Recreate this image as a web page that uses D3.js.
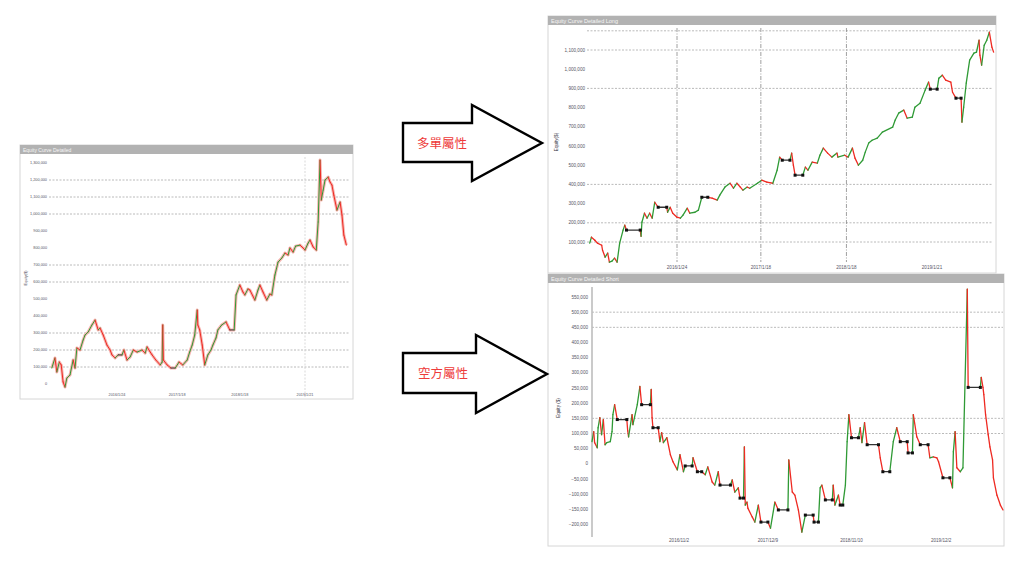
<!DOCTYPE html>
<html><head><meta charset="utf-8">
<script src="https://cdn.jsdelivr.net/npm/d3@7"></script>
<style>body{margin:0;background:#fff}svg{display:block}</style>
</head><body><svg id="c" width="1024" height="576"></svg>
<script>
// ---------- DATA (equity in thousands of $, time in decimal years) ----------
const totalYears = [2014.96,2015.01,2015.04,2015.08,2015.11,2015.14,2015.17,2015.20,2015.25,2015.30,2015.33,2015.36,2015.41,2015.46,2015.49,2015.54,2015.60,2015.65,2015.70,2015.73,2015.78,2015.84,2015.89,2015.92,2015.97,2016.02,2016.08,2016.11,2016.16,2016.21,2016.26,2016.32,2016.40,2016.45,2016.48,2016.53,2016.56,2016.62,2016.69,2016.72,2016.73,2016.74,2016.80,2016.86,2016.93,2016.99,2017.05,2017.12,2017.16,2017.20,2017.24,2017.28,2017.29,2017.32,2017.36,2017.40,2017.45,2017.50,2017.53,2017.58,2017.61,2017.67,2017.74,2017.80,2017.87,2017.90,2017.96,2018.01,2018.04,2018.09,2018.12,2018.20,2018.25,2018.28,2018.33,2018.39,2018.44,2018.47,2018.52,2018.57,2018.63,2018.68,2018.73,2018.76,2018.81,2018.85,2018.92,2018.97,2019.00,2019.05,2019.08,2019.13,2019.18,2019.21,2019.24,2019.26,2019.29,2019.32,2019.37,2019.40,2019.43,2019.46,2019.51,2019.56,2019.59,2019.62,2019.66];
const totalEquity = [94,153,71,129,112,12,-18,35,53,141,94,212,200,259,288,306,347,376,318,329,288,229,200,171,153,171,171,200,141,159,200,188,200,182,218,188,171,141,112,129,347,141,112,94,94,129,112,141,188,229,288,435,347,318,229,112,171,200,229,271,318,347,365,318,318,524,582,541,524,559,553,494,553,582,541,494,529,524,641,717,741,770,759,800,776,811,817,800,788,829,847,806,788,953,1317,1082,1141,1200,1217,1188,1170,1111,1023,1070,994,876,817];

const longYears = [2015.05,2015.07,2015.11,2015.14,2015.19,2015.20,2015.23,2015.26,2015.28,2015.31,2015.34,2015.37,2015.40,2015.44,2015.46,2015.48,2015.64,2015.65,2015.66,2015.69,2015.72,2015.75,2015.78,2015.81,2015.85,2015.95,2015.96,2015.99,2016.02,2016.07,2016.11,2016.14,2016.19,2016.22,2016.28,2016.32,2016.36,2016.43,2016.48,2016.54,2016.57,2016.63,2016.69,2016.73,2016.77,2016.81,2016.84,2016.89,2016.92,2017.01,2017.06,2017.12,2017.19,2017.24,2017.27,2017.30,2017.39,2017.41,2017.43,2017.45,2017.54,2017.57,2017.60,2017.65,2017.71,2017.74,2017.78,2017.83,2017.88,2017.94,2017.95,2018.03,2018.07,2018.12,2018.15,2018.19,2018.24,2018.27,2018.31,2018.35,2018.41,2018.47,2018.59,2018.62,2018.66,2018.72,2018.76,2018.82,2018.85,2018.91,2018.97,2019.01,2019.03,2019.11,2019.13,2019.17,2019.21,2019.27,2019.29,2019.33,2019.39,2019.40,2019.42,2019.45,2019.49,2019.54,2019.57,2019.60,2019.61,2019.63,2019.66,2019.69,2019.72,2019.75,2019.77];
const longEquity = [94,125,109,94,83,57,21,42,-5,0,16,-5,94,162,188,162,162,130,203,250,224,250,224,307,281,281,255,281,250,229,224,240,276,250,255,266,333,333,328,318,344,386,406,380,406,386,370,386,380,406,422,412,406,474,542,526,526,563,500,448,448,490,474,516,511,552,589,563,542,563,542,552,542,589,537,500,526,568,615,630,641,672,698,735,771,787,745,750,802,823,891,933,896,896,953,969,943,933,880,849,849,724,802,927,1047,1084,1089,1151,1073,1021,1125,1151,1193,1115,1089];

const shortYears = [2015.00,2015.02,2015.03,2015.06,2015.07,2015.09,2015.11,2015.13,2015.15,2015.17,2015.21,2015.23,2015.24,2015.26,2015.29,2015.40,2015.41,2015.42,2015.46,2015.47,2015.52,2015.55,2015.57,2015.67,2015.68,2015.69,2015.70,2015.76,2015.78,2015.80,2015.82,2015.86,2015.90,2015.93,2015.98,2016.01,2016.05,2016.07,2016.15,2016.16,2016.21,2016.26,2016.30,2016.33,2016.38,2016.41,2016.45,2016.47,2016.59,2016.61,2016.64,2016.68,2016.70,2016.74,2016.75,2016.76,2016.78,2016.79,2016.84,2016.87,2016.91,2016.94,2017.02,2017.05,2017.10,2017.14,2017.25,2017.26,2017.30,2017.33,2017.37,2017.41,2017.45,2017.54,2017.55,2017.60,2017.62,2017.64,2017.68,2017.76,2017.77,2017.79,2017.83,2017.85,2017.88,2017.91,2017.93,2017.95,2017.98,2018.06,2018.08,2018.10,2018.13,2018.16,2018.29,2018.31,2018.34,2018.42,2018.46,2018.50,2018.54,2018.62,2018.63,2018.68,2018.69,2018.73,2018.77,2018.86,2018.88,2018.92,2018.96,2018.98,2019.03,2019.11,2019.14,2019.15,2019.17,2019.19,2019.23,2019.26,2019.31,2019.32,2019.46,2019.47,2019.49,2019.50,2019.52,2019.55,2019.57,2019.60,2019.61,2019.65,2019.69,2019.72];
const shortEquity = [73,106,70,53,119,152,96,146,63,70,73,106,162,195,146,146,109,89,162,129,195,255,195,195,245,152,119,119,73,103,70,86,30,7,-20,30,-26,-7,-7,20,-26,-26,-36,-10,-60,-70,-26,-70,-70,-53,-93,-79,-113,-113,56,-136,-126,-146,-175,-192,-136,-192,-192,-212,-126,-152,-152,13,-93,-103,-152,-225,-169,-169,-192,-192,-79,-70,-119,-119,-70,-136,-103,-136,-136,-70,73,162,86,86,119,70,136,63,63,20,-26,-26,73,119,73,73,36,36,162,89,63,63,20,23,20,7,-46,-46,-79,40,106,-13,-26,-13,576,252,252,285,252,228,162,96,56,13,-46,-103,-136,-152];

// axis ticks (thousands) and date tick labels
const totalYTicks = [0,100,200,300,400,500,600,700,800,900,1000,1100,1200,1300];
const totalGrid = [100,200,300,600,700,1000,1100,1200];
const totalXTicks = [2016.0,2016.96,2017.96,2019.0];
const totalXLabels = ["2016/1/24","2017/1/18","2018/1/18","2019/1/21"];

const longYTicks = [100,200,300,400,500,600,700,800,900,1000,1100];
const longGrid = [100,200,400,900,1100,1200];
const longXTicks = [2016.07,2017.05,2018.05,2019.05];
const longXLabels = ["2016/1/24","2017/1/18","2018/1/18","2019/1/21"];

const shortYTicks = [-200,-150,-100,-50,0,50,100,150,200,250,300,350,400,450,500,550];
const shortGrid = [100,150,450,500];
const shortXTicks = [2016.0,2017.02,2017.98,2019.01];
const shortXLabels = ["2016/11/2","2017/12/9","2018/11/10","2019/12/2"];

// ---------- DRAW ----------
const svg = d3.select("#c");
const fmt = d3.format(",");
const GREEN = "#2f9a35", RED = "#ee2a22";

function panel(p) {
  const g = svg.append("g");
  g.append("rect").attr("x", p.box[0]).attr("y", p.box[1]).attr("width", p.box[2]-p.box[0]).attr("height", p.box[3]-p.box[1])
    .attr("fill", "#fff").attr("stroke", "#d6d6d6").attr("stroke-width", 1);
  g.append("rect").attr("x", p.box[0]).attr("y", p.box[1]).attr("width", p.box[2]-p.box[0]).attr("height", 9)
    .attr("fill", "#b2b2b2");
  g.append("text").attr("x", p.box[0]+3).attr("y", p.box[1]+6.8).text(p.title)
    .attr("font-family", "Arial, 'Liberation Sans', sans-serif").attr("font-size", p.titleSize).attr("fill", "#f6f6f6");

  const x = d3.scaleLinear().domain(p.xDomain).range(p.xRange);
  const y = d3.scaleLinear().domain(p.yDomain).range(p.yRange);

  // horizontal grid
  g.selectAll(".hg").data(p.grid).join("line")
    .attr("x1", p.plotX[0]).attr("x2", p.plotX[1])
    .attr("y1", d => y(d)).attr("y2", d => y(d))
    .attr("stroke", "#a8a8a8").attr("stroke-width", 0.8).attr("stroke-dasharray", "2,1.5");
  // vertical grid
  g.selectAll(".vg").data(p.vGrid).join("line")
    .attr("x1", d => x(d)).attr("x2", d => x(d))
    .attr("y1", p.plotY[0]).attr("y2", p.plotY[1])
    .attr("stroke", p.vColor).attr("stroke-width", 0.8).attr("stroke-dasharray", p.vDash);

  // y axis labels
  g.selectAll(".yl").data(p.yTicks).join("text")
    .attr("x", p.yLabelX).attr("y", d => y(d) + p.labelSize*0.35)
    .attr("text-anchor", "end").attr("font-size", p.labelSize)
    .attr("font-family", "Arial, 'Liberation Sans', sans-serif").attr("fill", "#556")
    .text(d => fmt(d*1000));
  // x axis labels
  g.selectAll(".xl").data(p.xTicks).join("text")
    .attr("x", d => x(d)).attr("y", p.xLabelY)
    .attr("text-anchor", "middle").attr("font-size", p.labelSize)
    .attr("font-family", "Arial, 'Liberation Sans', sans-serif").attr("fill", "#556")
    .text((d, i) => p.xLabels[i]);
  // y title
  g.append("text").attr("transform", `translate(${p.yTitle[0]},${p.yTitle[1]}) rotate(-90)`)
    .attr("text-anchor", "middle").attr("font-size", p.labelSize)
    .attr("font-family", "Arial, 'Liberation Sans', sans-serif").attr("fill", "#334").text(p.yTitleText);

  if (p.axisLine) {
    g.append("line").attr("x1", p.axisLine).attr("x2", p.axisLine).attr("y1", p.plotY[0]).attr("y2", p.plotY[1])
      .attr("stroke", "#bdbdbd").attr("stroke-width", 1.6);
  }

  const pts = p.years.map((t, i) => ({ t, v: p.values[i] }));
  const pairs = d3.pairs(pts);
  if (p.halo) {
    g.append("path").datum(pts)
      .attr("d", d3.line().x(d => x(d.t)).y(d => y(d.v)))
      .attr("fill", "none").attr("stroke", "#f6b4b0").attr("stroke-width", 3).attr("stroke-linejoin", "round");
  }
  g.selectAll(".seg").data(pairs).join("line")
    .attr("x1", d => x(d[0].t)).attr("y1", d => y(d[0].v))
    .attr("x2", d => x(d[1].t)).attr("y2", d => y(d[1].v))
    .attr("stroke", d => d[1].v > d[0].v ? GREEN : (d[1].v < d[0].v ? RED : "#333"))
    .attr("stroke-width", p.lw).attr("stroke-linecap", "round");
  if (p.dots) {
    const flatEnds = pts.filter((d, i) => (i > 0 && pts[i-1].v === d.v) || (i < pts.length-1 && pts[i+1].v === d.v));
    g.selectAll(".dot").data(flatEnds).join("rect")
      .attr("x", d => x(d.t) - 1.5).attr("y", d => y(d.v) - 1.5)
      .attr("width", 3).attr("height", 3).attr("fill", "#111");
  }
}

// Left: total equity
panel({
  box: [20, 145, 353, 399], title: "Equity Curve Detailed", titleSize: 5,
  xDomain: [2016.0, 2019.0], xRange: [117, 305],
  yDomain: [0, 1300], yRange: [384, 163],
  plotX: [49, 350], plotY: [157, 398],
  grid: totalGrid, vGrid: [2019.0], vColor: "#cfcfcf", vDash: "2,1.5",
  yTicks: totalYTicks, yLabelX: 47, labelSize: 3.8,
  xTicks: totalXTicks, xLabels: totalXLabels, xLabelY: 396,
  yTitle: [27, 278], yTitleText: "Equity($)",
  years: totalYears, values: totalEquity, lw: 1, halo: true, dots: false
});

// Right top: long
panel({
  box: [548, 16, 996, 273], title: "Equity Curve Detailed Long", titleSize: 5.5,
  xDomain: [2016.07, 2019.05], xRange: [677, 932],
  yDomain: [100, 1100], yRange: [242, 50],
  plotX: [587, 993], plotY: [28, 262],
  grid: longGrid, vGrid: longXTicks.slice(0, 3), vColor: "#888", vDash: "4,1.5,1,1.5",
  yTicks: longYTicks, yLabelX: 585, labelSize: 4.6,
  xTicks: longXTicks, xLabels: longXLabels, xLabelY: 269,
  yTitle: [558, 142], yTitleText: "Equity($)",
  years: longYears, values: longEquity, lw: 1.3, halo: false, dots: true
});

// Right bottom: short
panel({
  box: [548, 274, 1004, 546], title: "Equity Curve Detailed Short", titleSize: 5.5,
  xDomain: [2015.0, 2019.72], xRange: [592, 1003],
  yDomain: [-200, 550], yRange: [524.5, 297],
  plotX: [592, 1003], plotY: [287, 537],
  grid: shortGrid, vGrid: [], vColor: "#888", vDash: "2,2",
  yTicks: shortYTicks, yLabelX: 588, labelSize: 4.6,
  xTicks: shortXTicks, xLabels: shortXLabels, xLabelY: 542,
  yTitle: [560, 408], yTitleText: "Equity ($)", axisLine: 592,
  years: shortYears, values: shortEquity, lw: 1.3, halo: false, dots: true
});

// Arrows with labels
const arrows = [
  { pts: [[403,123],[472,123],[472,105],[542,143],[472,181],[472,162],[403,162]], label: "多單屬性", lx: 442, ly: 147.5 },
  { pts: [[403,353],[476,353],[476,335],[547,374],[476,413],[476,393],[403,393]], label: "空方屬性", lx: 443, ly: 378 }
];
const ag = svg.append("g");
ag.selectAll("polygon").data(arrows).join("polygon")
  .attr("points", d => d.pts.map(p => p.join(",")).join(" "))
  .attr("fill", "#fff").attr("stroke", "#000").attr("stroke-width", 2.4).attr("stroke-linejoin", "miter");
ag.selectAll("text").data(arrows).join("text")
  .attr("x", d => d.lx).attr("y", d => d.ly).attr("text-anchor", "middle")
  .attr("font-family", "'Noto Sans CJK TC', 'Noto Sans CJK SC', sans-serif").attr("font-size", 12.5)
  .attr("fill", "#ee3b3b").text(d => d.label);
</script></body></html>
